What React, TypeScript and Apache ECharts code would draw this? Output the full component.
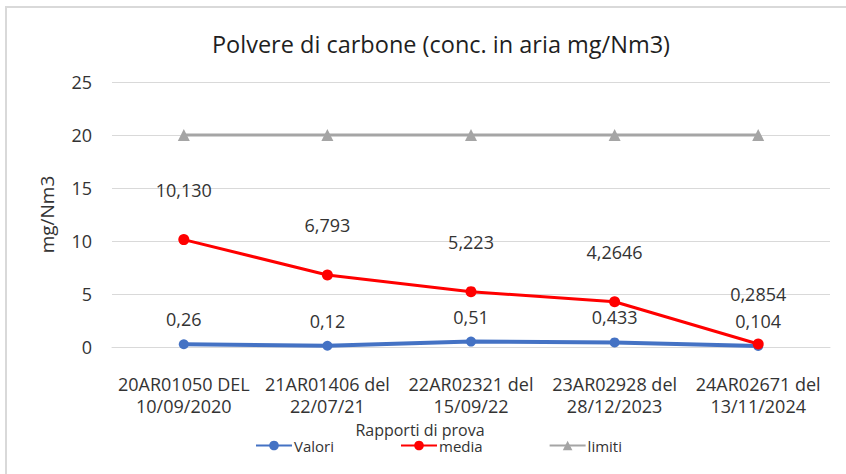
import React, { useEffect, useRef } from "react";
import * as echarts from "echarts";

const categories = [
  "20AR01050 DEL\n10/09/2020",
  "21AR01406 del\n22/07/21",
  "22AR02321 del\n15/09/22",
  "23AR02928 del\n28/12/2023",
  "24AR02671 del\n13/11/2024",
];
const valori = [0.26, 0.12, 0.51, 0.433, 0.104];
const valoriLabels = ["0,26", "0,12", "0,51", "0,433", "0,104"];
const media = [10.13, 6.793, 5.223, 4.2646, 0.2854];
const mediaLabels = ["10,130", "6,793", "5,223", "4,2646", "0,2854"];
const limiti = [20, 20, 20, 20, 20];
const yTicks = [0, 5, 10, 15, 20, 25];

const FONT = "'Open Sans', 'Noto Sans', sans-serif";
const TXT = "#333333";

export default function App() {
  const ref = useRef<HTMLDivElement>(null);
  useEffect(() => {
    if (!ref.current) return;
    const chart = echarts.init(ref.current, null, { renderer: "svg" });
    chart.setOption({
      animation: false,
      backgroundColor: "#ffffff",
      textStyle: { fontFamily: FONT },
      title: {
        text: "Polvere di carbone (conc. in aria mg/Nm3)",
        left: 436,
        top: 27,
        textAlign: "center",
        textStyle: { fontFamily: FONT, fontSize: 23.5, fontWeight: "normal", color: "#1f1f1f" },
      },
      graphic: [
        {
          type: "rect",
          shape: { x: 6, y: 7, width: 900, height: 600 },
          style: { fill: "none", stroke: "#d9d9d9", lineWidth: 2 },
          silent: true,
        },
      ],
      legend: {
        left: 250,
        top: 433,
        itemWidth: 36,
        itemHeight: 12,
        itemGap: 66,
        textStyle: { fontFamily: FONT, fontSize: 15, color: TXT, padding: [0, 0, 0, -3] },
        data: ["Valori", "media", "limiti"],
      },
      grid: { left: 112, right: 16, top: 82, bottom: 474 - 347, containLabel: false },
      xAxis: {
        type: "category",
        data: categories,
        boundaryGap: true,
        name: "Rapporti di prova",
        nameLocation: "middle",
        nameGap: 67,
        nameTextStyle: { fontFamily: FONT, fontSize: 16, color: TXT, padding: [0, 102, 0, 0] },
        axisLine: { lineStyle: { color: "#d9d9d9", width: 1 } },
        axisTick: { show: false },
        axisLabel: {
          interval: 0,
          fontFamily: FONT,
          fontSize: 18,
          lineHeight: 22,
          margin: 26,
          color: TXT,
        },
      },
      yAxis: {
        type: "value",
        min: 0,
        max: 25,
        interval: 5,
        name: "mg/Nm3",
        nameLocation: "middle",
        nameGap: 56,
        nameTextStyle: { fontFamily: FONT, fontSize: 19, color: TXT },
        axisLine: { show: false },
        axisTick: { show: false },
        splitLine: { lineStyle: { color: "#d9d9d9", width: 1 } },
        axisLabel: {
          fontFamily: FONT,
          fontSize: 18,
          margin: 20,
          color: TXT,
          formatter: (v: number) => (yTicks.includes(v) ? String(v) : ""),
        },
      },
      series: [
        {
          name: "Valori",
          type: "line",
          data: valori,
          color: "#4472C4",
          symbol: "circle",
          symbolSize: 10,
          lineStyle: { width: 4, color: "#4472C4" },
          itemStyle: { color: "#4472C4" },
          label: {
            show: true,
            position: "top",
            distance: 11,
            fontFamily: FONT,
            fontSize: 18,
            color: TXT,
            formatter: (p: any) => valoriLabels[p.dataIndex],
          },
        },
        {
          name: "media",
          type: "line",
          data: media,
          color: "#FF0000",
          symbol: "circle",
          symbolSize: 11,
          lineStyle: { width: 3, color: "#FF0000" },
          itemStyle: { color: "#FF0000" },
          label: {
            show: true,
            position: "top",
            distance: 35,
            fontFamily: FONT,
            fontSize: 18,
            color: TXT,
            formatter: (p: any) => mediaLabels[p.dataIndex],
          },
        },
        {
          name: "limiti",
          type: "line",
          data: limiti,
          color: "#A5A5A5",
          symbol: "triangle",
          symbolSize: 12,
          lineStyle: { width: 3, color: "#A5A5A5" },
          itemStyle: { color: "#A5A5A5" },
          label: { show: false },
        },
      ],
    });
    return () => chart.dispose();
  }, []);
  return (
    <div
      ref={ref}
      style={{ position: "absolute", left: 0, top: 0, width: 846, height: 474 }}
    />
  );
}
